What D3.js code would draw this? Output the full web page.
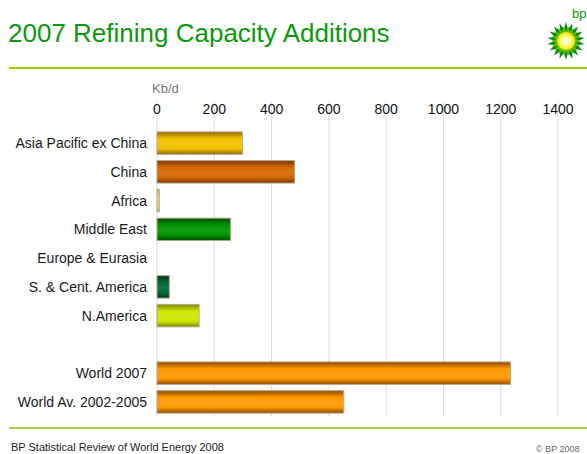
<!DOCTYPE html>
<html>
<head>
<meta charset="utf-8">
<script src="https://cdn.jsdelivr.net/npm/d3@7"></script>
<style>
  body { margin: 0; background: #fff; }
  text { font-family: "Liberation Sans", Arial, sans-serif; }
</style>
</head>
<body>
<div id="chart"></div>
<script>
// Data (Kb/d)
var categories = ["Asia Pacific ex China", "China", "Africa", "Middle East", "Europe & Eurasia",
                  "S. & Cent. America", "N.America", "", "World 2007", "World Av. 2002-2005"];
var values = [298, 480, 8, 257, 0, 43, 147, null, 1234, 652];
var barColors = ["#f2c200", "#d46800", "#efe08a", "#009400", null, "#006a3a", "#cbe800", null, "#ff9900", "#ff9900"];
var edgeColors = ["#8c6c00", "#7a3400", "#b8a050", "#004a00", null, "#00361c", "#7c8a00", null, "#8a4a00", "#8a4a00"];
var ticks = [0, 200, 400, 600, 800, 1000, 1200, 1400];

var W = 587, H = 454;
var svg = d3.select("#chart").append("svg").attr("width", W).attr("height", H);
var defs = svg.append("defs");

// Title
svg.append("text")
  .attr("x", 8).attr("y", 42)
  .style("font-size", "26px")
  .attr("fill", "#0a9a0a")
  .text("2007 Refining Capacity Additions");

// green rules
svg.append("line").attr("x1", 9).attr("x2", W).attr("y1", 68).attr("y2", 68)
  .attr("stroke", "#99cc00").attr("stroke-width", 2);
svg.append("line").attr("x1", 9).attr("x2", W).attr("y1", 428).attr("y2", 428)
  .attr("stroke", "#a8d040").attr("stroke-width", 2);

// Footer
svg.append("text").attr("x", 11).attr("y", 451)
  .style("font-size", "11px").attr("fill", "#222")
  .text("BP Statistical Review of World Energy 2008");
svg.append("text").attr("x", 536).attr("y", 452)
  .style("font-size", "9px").attr("fill", "#666")
  .text("\u00a9 BP 2008");

// Scales
var x = d3.scaleLinear().domain([0, 1400]).range([157, 558]);
var y = d3.scaleBand().domain(categories).range([129, 416]).paddingInner(0.22).paddingOuter(0.1);

// unit label
svg.append("text").attr("x", 152).attr("y", 93)
  .style("font-size", "13px").attr("fill", "#777").text("Kb/d");

// gridlines
svg.append("g").selectAll("line").data(ticks).enter().append("line")
  .attr("x1", function (d) { return x(d); })
  .attr("x2", function (d) { return x(d); })
  .attr("y1", 102).attr("y2", 416)
  .attr("stroke", "#dcdcdc").attr("stroke-width", 1);

// top axis labels
svg.append("g").selectAll("text").data(ticks).enter().append("text")
  .attr("x", function (d) { return x(d); })
  .attr("y", 114)
  .attr("text-anchor", "middle")
  .style("font-size", "14px").attr("fill", "#111")
  .text(function (d) { return d; });

// category labels
svg.append("g").selectAll("text").data(categories).enter().append("text")
  .attr("x", 147)
  .attr("y", function (d) { return y(d) + y.bandwidth() / 2 + 5; })
  .attr("text-anchor", "end")
  .style("font-size", "14px").attr("fill", "#1a1a1a")
  .text(function (d) { return d; });

// gradients per bar
categories.forEach(function (c, i) {
  if (!barColors[i]) return;
  var g = defs.append("linearGradient").attr("id", "grad" + i)
    .attr("x1", 0).attr("y1", 0).attr("x2", 0).attr("y2", 1);
  var mid = barColors[i], edge = edgeColors[i];
  var stops = [[0, edge], [0.3, mid], [0.55, d3.interpolateRgb(mid, "#fff")(0.08)], [0.75, mid], [1, edge]];
  stops.forEach(function (s) {
    g.append("stop").attr("offset", s[0]).attr("stop-color", s[1]);
  });
});

// bars
var barData = categories.map(function (c, i) { return { cat: c, val: values[i], i: i }; })
  .filter(function (d) { return d.val; });

svg.append("g").selectAll("rect").data(barData).enter().append("rect")
  .attr("x", x(0))
  .attr("y", function (d) { return y(d.cat); })
  .attr("width", function (d) { return x(d.val) - x(0); })
  .attr("height", y.bandwidth())
  .attr("fill", function (d) { return "url(#grad" + d.i + ")"; })
  .attr("stroke", "#b8a78a").attr("stroke-width", 1);

// BP helios logo
var logo = svg.append("g").attr("transform", "translate(566,41)");
function star(n, rOut, rIn, rot) {
  var pts = [];
  for (var k = 0; k < n * 2; k++) {
    var r = k % 2 === 0 ? rOut : rIn;
    var a = rot + k * Math.PI / n;
    pts.push([r * Math.sin(a), -r * Math.cos(a)]);
  }
  return "M" + pts.join("L") + "Z";
}
var rg = defs.append("radialGradient").attr("id", "sun");
rg.append("stop").attr("offset", 0).attr("stop-color", "#ffffff");
rg.append("stop").attr("offset", 0.45).attr("stop-color", "#ffff99");
rg.append("stop").attr("offset", 1).attr("stop-color", "#f2e600");
logo.append("path").attr("d", star(18, 19, 12, 0)).attr("fill", "#0a8a1a");
logo.append("path").attr("d", star(18, 15, 10, Math.PI / 18)).attr("fill", "#66bb00");
logo.append("circle").attr("r", 9).attr("fill", "url(#sun)");
svg.append("text").attr("x", 572).attr("y", 18)
  .style("font-size", "13px").attr("fill", "#0a9a0a").text("bp");
</script>
</body>
</html>
